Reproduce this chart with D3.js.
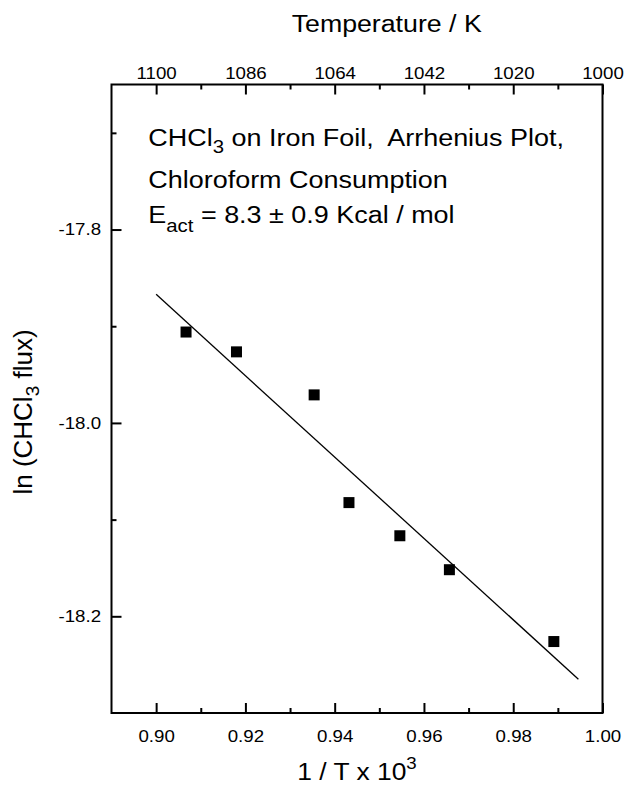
<!DOCTYPE html>
<html>
<head>
<meta charset="utf-8">
<script src="https://cdn.jsdelivr.net/npm/d3@7"></script>
<style>
  html, body { margin: 0; padding: 0; background: #fff; }
  svg { display: block; font-family: "Liberation Sans", Arial, sans-serif; }
  text { white-space: pre; fill: #000; }
</style>
</head>
<body>
<script>
'use strict';

// measured points (1/T x 10^3, ln flux)
const invT = [0.9067, 0.9180, 0.9354, 0.9432, 0.9546, 0.9657, 0.9891];
const lnFlux = [-17.906, -17.9265, -17.971, -18.0824, -18.1167, -18.1518, -18.2261];

// least squares line end points
const fitX = [0.900, 0.9946];
const fitY = [-17.867, -18.265];

const xTicks = [0.90, 0.92, 0.94, 0.96, 0.98, 1.00];
const xMinor = [0.91, 0.93, 0.95, 0.97, 0.99];
const tempLabels = ['1100', '1086', '1064', '1042', '1020', '1000'];
const yTicks = [-17.8, -18.0, -18.2];
const yMinor = [-17.7, -17.9, -18.1];

const width = 626, height = 785;
const plotL = 111.5, plotR = 602.5, plotT = 84.5, plotB = 713;
const sx = 1.1; // text in the scan is a bit wide

let svg = d3.select('body').append('svg')
	.attr('width', width)
	.attr('height', height);

let x = d3.scaleLinear().domain([0.89, 1.00]).range([plotL, plotR]);
let y = d3.scaleLinear().domain([-18.30, -17.65]).range([plotB, plotT]);

function styleAxis(g) {
	g.attr('font-family', null).attr('font-size', null);
	g.select('.domain').remove();
	g.selectAll('.tick line').attr('stroke', '#000').attr('stroke-width', 2);
	g.selectAll('.tick text')
		.attr('font-size', 17)
		.attr('fill', '#000')
		.attr('transform', `scale(${sx},1)`);
}

// bottom
svg.append('g')
	.attr('transform', `translate(0,${plotB})`)
	.call(d3.axisBottom(x).tickValues(xTicks).tickSize(-10).tickPadding(17).tickFormat(d3.format('.2f')))
	.call(styleAxis);
svg.append('g')
	.attr('transform', `translate(0,${plotB})`)
	.call(d3.axisBottom(x).tickValues(xMinor).tickSize(-5).tickFormat(''))
	.call(styleAxis);

// top, temperature labels
svg.append('g')
	.attr('transform', `translate(0,${plotT})`)
	.call(d3.axisTop(x).tickValues(xTicks).tickSize(-10).tickPadding(6).tickFormat((d, i) => tempLabels[i]))
	.call(styleAxis);
svg.append('g')
	.attr('transform', `translate(0,${plotT})`)
	.call(d3.axisTop(x).tickValues(xMinor).tickSize(-5).tickFormat(''))
	.call(styleAxis);

// left
svg.append('g')
	.attr('transform', `translate(${plotL},0)`)
	.call(d3.axisLeft(y).tickValues(yTicks).tickSize(-10).tickPadding(9.5).tickFormat(d => d.toFixed(1)))
	.call(styleAxis);
svg.append('g')
	.attr('transform', `translate(${plotL},0)`)
	.call(d3.axisLeft(y).tickValues(yMinor).tickSize(-5).tickFormat(''))
	.call(styleAxis);

// frame
svg.append('rect')
	.attr('x', plotL).attr('y', plotT)
	.attr('width', plotR - plotL).attr('height', plotB - plotT)
	.attr('fill', 'none')
	.attr('stroke', '#000')
	.attr('stroke-width', 2);

// fit line
svg.append('line')
	.attr('x1', x(fitX[0])).attr('y1', y(fitY[0]))
	.attr('x2', x(fitX[1])).attr('y2', y(fitY[1]))
	.attr('stroke', '#000')
	.attr('stroke-width', 1.3);

// points
let sq = 11;
svg.append('g').selectAll('rect')
	.data(invT.map((d, i) => [d, lnFlux[i]]))
	.join('rect')
	.attr('x', d => x(d[0]) - sq / 2)
	.attr('y', d => y(d[1]) - sq / 2)
	.attr('width', sq)
	.attr('height', sq)
	.attr('fill', '#000');

// horizontal text, stretched a little
function label(px, py, size, anchor) {
	return svg.append('text')
		.attr('transform', `translate(${px},${py}) scale(${sx},1)`)
		.attr('font-size', size)
		.attr('text-anchor', anchor || 'start');
}

label(386.7, 31.7, 24.3, 'middle').text('Temperature / K');

let t = label(357, 780, 24, 'middle');
t.append('tspan').text('1 / T x 10');
t.append('tspan').attr('dy', -11).attr('font-size', 17).text('3');

// annotation
let a1 = label(148.3, 146, 24.5);
a1.append('tspan').text('CHCl');
a1.append('tspan').attr('dy', 7).attr('font-size', 18.5).text('3');
a1.append('tspan').attr('dy', -7).text(' on Iron Foil,  Arrhenius Plot,');

label(148.3, 187.7, 24.5).text('Chloroform Consumption');

let a3 = label(148.3, 222.7, 24.5);
a3.append('tspan').text('E');
a3.append('tspan').attr('dy', 9).attr('font-size', 18.5).text('act');
a3.append('tspan').attr('dy', -9).text(' = 8.3 \u00b1 0.9 Kcal / mol');

// y title
let yt = svg.append('text')
	.attr('transform', `translate(31.7,412) rotate(-90)`)
	.attr('font-size', 26)
	.attr('text-anchor', 'middle');
yt.append('tspan').text('ln (CHCl');
yt.append('tspan').attr('dy', 7).attr('font-size', 19).text('3');
yt.append('tspan').attr('dy', -7).text(' flux)');
</script>
</body>
</html>
